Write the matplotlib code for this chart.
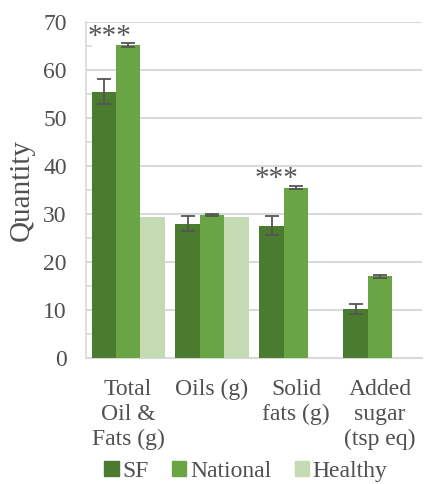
import numpy as np
import matplotlib.pyplot as plt
from matplotlib.patches import Patch

plt.rcParams['font.family'] = ['Liberation Serif', 'DejaVu Serif']

categories = ["Total\nOil &\nFats (g)", "Oils (g)", "Solid\nfats (g)", "Added\nsugar\n(tsp eq)"]
sf = [55.4, 28.0, 27.6, 10.2]
sf_err = [2.6, 1.5, 1.9, 1.0]
national = [65.2, 29.8, 35.5, 17.0]
national_err = [0.4, 0.3, 0.4, 0.3]
healthy = [29.3, 29.3, np.nan, np.nan]
stars = [66.8, np.nan, 37.2, np.nan]

colors = ["#4b7b2e", "#6aa545", "#c4dab2"]
text_color = "#505050"

fig = plt.figure(figsize=(4.24, 4.84), dpi=100)
ax = fig.add_axes([0.203, 0.26, 0.792, 0.695])

x = np.arange(len(categories))
w = 0.29
err_kw = dict(ecolor="#555555", capsize=5, elinewidth=1.3, capthick=1.3)
ax.bar(x - w, sf, w, yerr=sf_err, color=colors[0], error_kw=err_kw, zorder=3)
ax.bar(x, national, w, yerr=national_err, color=colors[1], error_kw=err_kw, zorder=3)
ax.bar(x + w, healthy, w, color=colors[2], zorder=3)

# significance marks
for i, s in enumerate(stars):
    if not np.isnan(s):
        ax.text(x[i] - w * 0.78, s, "***", ha="center", va="center",
                fontsize=21, color="#555555")

ax.set_xlim(-0.5, len(categories) - 0.5)
ax.set_ylim(0, 70)
ax.set_yticks(range(0, 71, 10))
ax.set_yticks(range(5, 70, 10), minor=True)
ax.yaxis.grid(True, color="#d9d9d9", linewidth=1.5, zorder=0)
ax.tick_params(axis="y", which="major", length=0, labelsize=17, colors=text_color, pad=14)
ax.tick_params(axis="y", which="minor", length=4, direction="in", color="#d9d9d9", width=1.2)
ax.set_xticks(x)
ax.set_xticklabels(categories, fontsize=17, color=text_color, linespacing=1.25)
ax.tick_params(axis="x", length=0, pad=15)
for side in ["top", "right"]:
    ax.spines[side].set_visible(False)
ax.spines["left"].set_color("#d9d9d9")
ax.spines["left"].set_linewidth(1.2)
ax.spines["bottom"].set_color("#d9d9d9")
ax.spines["bottom"].set_linewidth(1.5)

ax.set_ylabel("Quantity", fontsize=21, color=text_color, labelpad=6)

handles = [Patch(color=c) for c in colors]
fig.legend(handles, ["SF", "National", "Healthy"], loc="lower center",
           bbox_to_anchor=(0.58, -0.04), ncol=3, frameon=False, fontsize=17,
           handlelength=0.6, handleheight=0.6, handletextpad=0.15, columnspacing=1.0,
           labelcolor=text_color)

fig.savefig("out.png", dpi=100)
